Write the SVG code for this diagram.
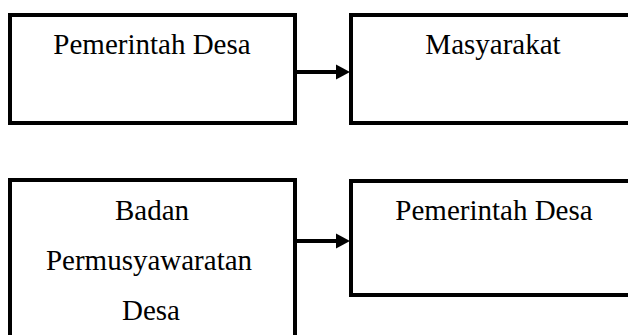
<svg xmlns="http://www.w3.org/2000/svg" width="628" height="335" viewBox="0 0 628 335">
<style>
.box{fill:#fff;stroke:#000;stroke-width:4}
.t{font-family:"Liberation Serif","Times New Roman",serif;font-size:29px;fill:#000;text-anchor:middle}
.ln{stroke:#000;stroke-width:4;fill:none}
.hd{fill:#000}
</style>
<rect width="628" height="335" fill="#fff"/>
<g id="node-pemerintah-desa-1">
<rect class="box" x="10" y="15" width="285" height="108"/>
<text class="t" x="152" y="54">Pemerintah Desa</text>
</g>
<g id="node-masyarakat">
<rect class="box" x="351" y="15" width="285" height="108"/>
<text class="t" x="493" y="54">Masyarakat</text>
</g>
<g id="node-bpd">
<rect class="box" x="10" y="180" width="285" height="170"/>
<text class="t" x="152" y="220">Badan</text>
<text class="t" x="149" y="270">Permusyawaratan</text>
<text class="t" x="151" y="320">Desa</text>
</g>
<g id="node-pemerintah-desa-2">
<rect class="box" x="351" y="181" width="285" height="114"/>
<text class="t" x="494" y="220">Pemerintah Desa</text>
</g>
<g id="connectors">
<line class="ln" x1="297" y1="72" x2="337" y2="72"/>
<polygon class="hd" points="336,64.5 350,72 336,79.5"/>
<line class="ln" x1="297" y1="241" x2="337" y2="241"/>
<polygon class="hd" points="336,233.5 350,241 336,248.5"/>
</g>
</svg>
